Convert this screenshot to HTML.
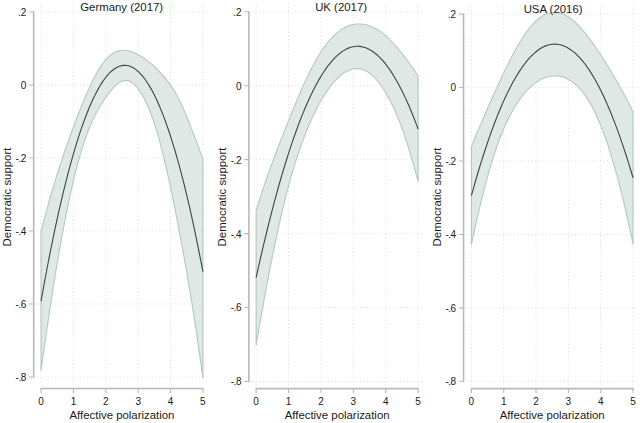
<!DOCTYPE html>
<html lang="en">
<head>
<meta charset="utf-8">
<title>Affective polarization and democratic support</title>
<style>
html,body{margin:0;padding:0;background:#fff;}
body{width:640px;height:423px;overflow:hidden;font-family:"Liberation Sans",sans-serif;}
svg{display:block;}
svg text{font-family:"Liberation Sans",sans-serif;fill:#1a1a1a;}
</style>
</head>
<body>
<svg width="640" height="423" viewBox="0 0 640 423">
<rect width="640" height="423" fill="#fff"/>
<path d="M36.9 12H209M36.9 85H209M36.9 158H209M36.9 231H209M36.9 304H209M36.9 377H209M41.05 3.5V385.5M73.42 3.5V385.5M105.79 3.5V385.5M138.16 3.5V385.5M170.53 3.5V385.5M202.9 3.5V385.5" fill="none" stroke="#d9d9d9" stroke-width="1" stroke-dasharray="1 2.6"/>
<path d="M41.05 231.73L42.67 225.31L44.29 219.05L45.91 212.96L47.52 207.02L49.14 201.23L50.76 195.57L52.38 190.03L54 184.62L55.62 179.32L57.23 174.13L58.85 169.03L60.47 164.03L62.09 159.11L63.71 154.28L65.33 149.53L66.95 144.86L68.56 140.27L70.18 135.74L71.8 131.28L73.42 126.89L75.04 122.56L76.66 118.3L78.28 114.1L79.89 109.98L81.51 105.95L83.13 101.99L84.75 98.13L86.37 94.37L87.99 90.71L89.6 87.15L91.22 83.72L92.84 80.42L94.46 77.25L96.08 74.23L97.7 71.36L99.32 68.66L100.93 66.13L102.55 63.78L104.17 61.62L105.79 59.66L107.41 57.91L109.03 56.36L110.65 55L112.26 53.83L113.88 52.84L115.5 52.02L117.12 51.37L118.74 50.87L120.36 50.52L121.97 50.32L123.59 50.25L125.21 50.31L126.83 50.49L128.45 50.79L130.07 51.19L131.69 51.7L133.3 52.3L134.92 52.99L136.54 53.76L138.16 54.61L139.78 55.52L141.4 56.5L143.02 57.55L144.63 58.67L146.25 59.84L147.87 61.08L149.49 62.38L151.11 63.73L152.73 65.15L154.34 66.62L155.96 68.14L157.58 69.72L159.2 71.35L160.82 73.05L162.44 74.81L164.06 76.67L165.67 78.61L167.29 80.66L168.91 82.83L170.53 85.12L172.15 87.54L173.77 90.11L175.39 92.83L177 95.71L178.62 98.74L180.24 101.95L181.86 105.33L183.48 108.9L185.1 112.64L186.71 116.54L188.33 120.57L189.95 124.68L191.57 128.86L193.19 133.05L194.81 137.25L196.43 141.47L198.04 145.74L199.66 150.1L201.28 154.57L202.9 159.19L202.9 377.82L201.28 366.15L199.66 354.67L198.04 343.41L196.43 332.4L194.81 321.64L193.19 311.17L191.57 301L189.95 291.11L188.33 281.47L186.71 272.05L185.1 262.84L183.48 253.8L181.86 244.92L180.24 236.19L178.62 227.61L177 219.21L175.39 210.97L173.77 202.9L172.15 195.02L170.53 187.32L168.91 179.81L167.29 172.51L165.67 165.43L164.06 158.59L162.44 152L160.82 145.69L159.2 139.67L157.58 133.96L155.96 128.57L154.34 123.49L152.73 118.72L151.11 114.26L149.49 110.1L147.87 106.23L146.25 102.64L144.63 99.34L143.02 96.31L141.4 93.55L139.78 91.05L138.16 88.81L136.54 86.82L134.92 85.08L133.3 83.61L131.69 82.4L130.07 81.47L128.45 80.82L126.83 80.46L125.21 80.39L123.59 80.61L121.97 81.12L120.36 81.89L118.74 82.9L117.12 84.13L115.5 85.57L113.88 87.19L112.26 88.99L110.65 90.92L109.03 92.99L107.41 95.17L105.79 97.44L104.17 99.79L102.55 102.22L100.93 104.77L99.32 107.44L97.7 110.26L96.08 113.25L94.46 116.41L92.84 119.78L91.22 123.36L89.6 127.19L87.99 131.26L86.37 135.61L84.75 140.25L83.13 145.19L81.51 150.41L79.89 155.93L78.28 161.74L76.66 167.84L75.04 174.23L73.42 180.91L71.8 187.88L70.18 195.15L68.56 202.69L66.95 210.52L65.33 218.62L63.71 227L62.09 235.65L60.47 244.57L58.85 253.75L57.23 263.19L55.62 272.89L54 282.84L52.38 293.03L50.76 303.45L49.14 314.1L47.52 324.96L45.91 336.04L44.29 347.31L42.67 358.78L41.05 370.43Z" fill="#dfe8e5" stroke="#b0cac2" stroke-width="1.1" stroke-linejoin="round"/>
<path d="M41.05 301.08L42.67 292.04L44.29 283.18L45.91 274.5L47.52 265.99L49.14 257.66L50.76 249.51L52.38 241.53L54 233.73L55.62 226.11L57.23 218.66L58.85 211.39L60.47 204.3L62.09 197.38L63.71 190.64L65.33 184.07L66.95 177.69L68.56 171.47L70.18 165.44L71.8 159.58L73.42 153.9L75.04 148.4L76.66 143.07L78.28 137.92L79.89 132.94L81.51 128.14L83.13 123.52L84.75 119.08L86.37 114.81L87.99 110.72L89.6 106.8L91.22 103.06L92.84 99.5L94.46 96.12L96.08 92.91L97.7 89.88L99.32 87.02L100.93 84.34L102.55 81.84L104.17 79.51L105.79 77.36L107.41 75.39L109.03 73.6L110.65 71.98L112.26 70.53L113.88 69.27L115.5 68.18L117.12 67.27L118.74 66.53L120.36 65.97L121.97 65.59L123.59 65.38L125.21 65.35L126.83 65.5L128.45 65.82L130.07 66.32L131.69 67L133.3 67.85L134.92 68.88L136.54 70.09L138.16 71.47L139.78 73.03L141.4 74.77L143.02 76.68L144.63 78.77L146.25 81.03L147.87 83.48L149.49 86.1L151.11 88.89L152.73 91.86L154.34 95.01L155.96 98.34L157.58 101.84L159.2 105.52L160.82 109.38L162.44 113.41L164.06 117.62L165.67 122L167.29 126.56L168.91 131.3L170.53 136.22L172.15 141.31L173.77 146.58L175.39 152.02L177 157.64L178.62 163.44L180.24 169.42L181.86 175.57L183.48 181.9L185.1 188.4L186.71 195.08L188.33 201.94L189.95 208.97L191.57 216.18L193.19 223.57L194.81 231.14L196.43 238.88L198.04 246.79L199.66 254.89L201.28 263.16L202.9 271.61" fill="none" stroke="#3c4446" stroke-width="1.1"/>
<path d="M33.7 11.3V377.7M40.35 388.5H203.6" fill="none" stroke="#b9b9b9" stroke-width="1.6"/>
<path d="M29.1 12H33.7M29.1 85H33.7M29.1 158H33.7M29.1 231H33.7M29.1 304H33.7M29.1 377H33.7M41.05 388.5v4.4M73.42 388.5v4.4M105.79 388.5v4.4M138.16 388.5v4.4M170.53 388.5v4.4M202.9 388.5v4.4" fill="none" stroke="#b9b9b9" stroke-width="1.1"/>
<text x="121.7" y="10.9" text-anchor="middle" font-size="11.4">Germany (2017)</text>
<text x="26.3" y="15.9" text-anchor="end" font-size="10.0">.2</text>
<text x="26.3" y="88.9" text-anchor="end" font-size="10.0">0</text>
<text x="26.3" y="161.9" text-anchor="end" font-size="10.0">-<tspan dx="-0.5">.</tspan><tspan dx="-0.45">2</tspan></text>
<text x="26.3" y="234.9" text-anchor="end" font-size="10.0">-<tspan dx="-0.5">.</tspan><tspan dx="-0.45">4</tspan></text>
<text x="26.3" y="307.9" text-anchor="end" font-size="10.0">-<tspan dx="-0.5">.</tspan><tspan dx="-0.45">6</tspan></text>
<text x="26.3" y="380.9" text-anchor="end" font-size="10.0">-<tspan dx="-0.5">.</tspan><tspan dx="-0.45">8</tspan></text>
<text x="41.05" y="404.5" text-anchor="middle" font-size="10.0">0</text>
<text x="73.42" y="404.5" text-anchor="middle" font-size="10.0">1</text>
<text x="105.79" y="404.5" text-anchor="middle" font-size="10.0">2</text>
<text x="138.16" y="404.5" text-anchor="middle" font-size="10.0">3</text>
<text x="170.53" y="404.5" text-anchor="middle" font-size="10.0">4</text>
<text x="202.9" y="404.5" text-anchor="middle" font-size="10.0">5</text>
<text x="121.97" y="419.25" text-anchor="middle" font-size="11.4">Affective polarization</text>
<text transform="translate(10.8 197) rotate(-90)" text-anchor="middle" font-size="11.4">Democratic support</text>
<path d="M252.1 11.75H424M252.1 85.7H424M252.1 159.65H424M252.1 233.6H424M252.1 307.55H424M252.1 381.5H424M256.15 3.25V385.6M288.54 3.25V385.6M320.93 3.25V385.6M353.32 3.25V385.6M385.71 3.25V385.6M418.1 3.25V385.6" fill="none" stroke="#d9d9d9" stroke-width="1" stroke-dasharray="1 2.6"/>
<path d="M256.15 210.31L257.77 205.11L259.39 200.03L261.01 195.05L262.63 190.17L264.25 185.38L265.87 180.68L267.49 176.06L269.11 171.52L270.73 167.04L272.34 162.63L273.96 158.27L275.58 153.96L277.2 149.7L278.82 145.48L280.44 141.3L282.06 137.16L283.68 133.05L285.3 128.96L286.92 124.89L288.54 120.84L290.16 116.81L291.78 112.8L293.4 108.81L295.02 104.86L296.64 100.96L298.26 97.11L299.88 93.32L301.5 89.59L303.12 85.94L304.73 82.37L306.35 78.88L307.97 75.49L309.59 72.2L311.21 69L312.83 65.9L314.45 62.91L316.07 60.02L317.69 57.23L319.31 54.56L320.93 52L322.55 49.56L324.17 47.23L325.79 45.02L327.41 42.92L329.03 40.93L330.65 39.06L332.27 37.3L333.89 35.66L335.51 34.13L337.12 32.71L338.74 31.41L340.36 30.21L341.98 29.12L343.6 28.15L345.22 27.27L346.84 26.5L348.46 25.84L350.08 25.28L351.7 24.81L353.32 24.45L354.94 24.18L356.56 24.01L358.18 23.93L359.8 23.94L361.42 24.05L363.04 24.24L364.66 24.52L366.28 24.89L367.9 25.34L369.51 25.87L371.13 26.48L372.75 27.17L374.37 27.95L375.99 28.8L377.61 29.74L379.23 30.77L380.85 31.88L382.47 33.07L384.09 34.35L385.71 35.72L387.33 37.18L388.95 38.72L390.57 40.34L392.19 42.03L393.81 43.78L395.43 45.59L397.05 47.46L398.67 49.37L400.29 51.33L401.9 53.33L403.52 55.36L405.14 57.42L406.76 59.54L408.38 61.72L410 63.96L411.62 66.27L413.24 68.67L414.86 71.16L416.48 73.75L418.1 76.45L418.1 181.46L416.48 175.44L414.86 169.55L413.24 163.79L411.62 158.18L410 152.72L408.38 147.42L406.76 142.29L405.14 137.34L403.52 132.58L401.9 128.02L400.29 123.65L398.67 119.49L397.05 115.52L395.43 111.74L393.81 108.14L392.19 104.71L390.57 101.46L388.95 98.37L387.33 95.44L385.71 92.67L384.09 90.04L382.47 87.56L380.85 85.23L379.23 83.06L377.61 81.03L375.99 79.16L374.37 77.43L372.75 75.87L371.13 74.45L369.51 73.19L367.9 72.09L366.28 71.14L364.66 70.35L363.04 69.7L361.42 69.21L359.8 68.86L358.18 68.66L356.56 68.6L354.94 68.68L353.32 68.91L351.7 69.27L350.08 69.77L348.46 70.41L346.84 71.18L345.22 72.09L343.6 73.13L341.98 74.29L340.36 75.59L338.74 77.01L337.12 78.56L335.51 80.23L333.89 82.03L332.27 83.95L330.65 85.99L329.03 88.16L327.41 90.44L325.79 92.85L324.17 95.38L322.55 98.04L320.93 100.81L319.31 103.7L317.69 106.72L316.07 109.86L314.45 113.14L312.83 116.54L311.21 120.07L309.59 123.75L307.97 127.56L306.35 131.51L304.73 135.61L303.12 139.85L301.5 144.25L299.88 148.81L298.26 153.55L296.64 158.45L295.02 163.55L293.4 168.83L291.78 174.32L290.16 180.01L288.54 185.92L286.92 192.05L285.3 198.4L283.68 204.96L282.06 211.73L280.44 218.71L278.82 225.89L277.2 233.27L275.58 240.84L273.96 248.6L272.34 256.54L270.73 264.67L269.11 272.97L267.49 281.44L265.87 290.07L264.25 298.85L262.63 307.79L261.01 316.86L259.39 326.08L257.77 335.42L256.15 344.89Z" fill="#dfe8e5" stroke="#b0cac2" stroke-width="1.1" stroke-linejoin="round"/>
<path d="M256.15 277.6L257.77 270.27L259.39 263.05L261.01 255.96L262.63 248.98L264.25 242.12L265.87 235.37L267.49 228.75L269.11 222.24L270.73 215.85L272.34 209.58L273.96 203.43L275.58 197.4L277.2 191.48L278.82 185.69L280.44 180.01L282.06 174.44L283.68 169L285.3 163.68L286.92 158.47L288.54 153.38L290.16 148.41L291.78 143.56L293.4 138.82L295.02 134.21L296.64 129.71L298.26 125.33L299.88 121.06L301.5 116.92L303.12 112.9L304.73 108.99L306.35 105.2L307.97 101.53L309.59 97.97L311.21 94.54L312.83 91.22L314.45 88.02L316.07 84.94L317.69 81.98L319.31 79.13L320.93 76.41L322.55 73.8L324.17 71.31L325.79 68.93L327.41 66.68L329.03 64.54L330.65 62.53L332.27 60.63L333.89 58.85L335.51 57.18L337.12 55.64L338.74 54.21L340.36 52.9L341.98 51.71L343.6 50.64L345.22 49.68L346.84 48.84L348.46 48.13L350.08 47.52L351.7 47.04L353.32 46.68L354.94 46.43L356.56 46.3L358.18 46.29L359.8 46.4L361.42 46.63L363.04 46.97L364.66 47.43L366.28 48.02L367.9 48.71L369.51 49.53L371.13 50.47L372.75 51.52L374.37 52.69L375.99 53.98L377.61 55.39L379.23 56.91L380.85 58.56L382.47 60.32L384.09 62.2L385.71 64.2L387.33 66.31L388.95 68.55L390.57 70.9L392.19 73.37L393.81 75.96L395.43 78.66L397.05 81.49L398.67 84.43L400.29 87.49L401.9 90.67L403.52 93.97L405.14 97.38L406.76 100.92L408.38 104.57L410 108.34L411.62 112.23L413.24 116.23L414.86 120.36L416.48 124.6L418.1 128.96" fill="none" stroke="#3c4446" stroke-width="1.1"/>
<path d="M248.9 11.05V382.2M255.45 388.6H418.8" fill="none" stroke="#b9b9b9" stroke-width="1.6"/>
<path d="M244.3 11.75H248.9M244.3 85.7H248.9M244.3 159.65H248.9M244.3 233.6H248.9M244.3 307.55H248.9M244.3 381.5H248.9M256.15 388.6v4.4M288.54 388.6v4.4M320.93 388.6v4.4M353.32 388.6v4.4M385.71 388.6v4.4M418.1 388.6v4.4" fill="none" stroke="#b9b9b9" stroke-width="1.1"/>
<text x="341.1" y="10.65" text-anchor="middle" font-size="11.4">UK (2017)</text>
<text x="241.5" y="15.65" text-anchor="end" font-size="10.0">.2</text>
<text x="241.5" y="89.6" text-anchor="end" font-size="10.0">0</text>
<text x="241.5" y="163.55" text-anchor="end" font-size="10.0">-<tspan dx="-0.5">.</tspan><tspan dx="-0.45">2</tspan></text>
<text x="241.5" y="237.5" text-anchor="end" font-size="10.0">-<tspan dx="-0.5">.</tspan><tspan dx="-0.45">4</tspan></text>
<text x="241.5" y="311.45" text-anchor="end" font-size="10.0">-<tspan dx="-0.5">.</tspan><tspan dx="-0.45">6</tspan></text>
<text x="241.5" y="385.4" text-anchor="end" font-size="10.0">-<tspan dx="-0.5">.</tspan><tspan dx="-0.45">8</tspan></text>
<text x="256.15" y="404.6" text-anchor="middle" font-size="10.0">0</text>
<text x="288.54" y="404.6" text-anchor="middle" font-size="10.0">1</text>
<text x="320.93" y="404.6" text-anchor="middle" font-size="10.0">2</text>
<text x="353.32" y="404.6" text-anchor="middle" font-size="10.0">3</text>
<text x="385.71" y="404.6" text-anchor="middle" font-size="10.0">4</text>
<text x="418.1" y="404.6" text-anchor="middle" font-size="10.0">5</text>
<text x="337.12" y="419.35" text-anchor="middle" font-size="11.4">Affective polarization</text>
<text transform="translate(226.1 197) rotate(-90)" text-anchor="middle" font-size="11.4">Democratic support</text>
<path d="M466.75 14.11H639.5M466.75 87.55H639.5M466.75 160.99H639.5M466.75 234.43H639.5M466.75 307.87H639.5M466.75 381.31H639.5M471.4 5.61V385.6M503.73 5.61V385.6M536.06 5.61V385.6M568.39 5.61V385.6M600.72 5.61V385.6M633.05 5.61V385.6" fill="none" stroke="#d9d9d9" stroke-width="1" stroke-dasharray="1 2.6"/>
<path d="M471.4 146.56L473.02 142.6L474.63 138.68L476.25 134.8L477.87 130.96L479.48 127.14L481.1 123.36L482.72 119.6L484.33 115.87L485.95 112.16L487.56 108.48L489.18 104.81L490.8 101.17L492.41 97.55L494.03 93.95L495.65 90.37L497.26 86.82L498.88 83.29L500.5 79.79L502.11 76.33L503.73 72.91L505.35 69.53L506.96 66.19L508.58 62.92L510.2 59.7L511.81 56.56L513.43 53.48L515.05 50.49L516.66 47.58L518.28 44.76L519.89 42.04L521.51 39.42L523.13 36.9L524.74 34.49L526.36 32.19L527.98 30.01L529.59 27.95L531.21 26.01L532.83 24.19L534.44 22.5L536.06 20.93L537.68 19.49L539.29 18.18L540.91 17.01L542.53 15.96L544.14 15.04L545.76 14.26L547.38 13.61L548.99 13.09L550.61 12.71L552.22 12.45L553.84 12.33L555.46 12.34L557.07 12.47L558.69 12.74L560.31 13.13L561.92 13.64L563.54 14.28L565.16 15.04L566.77 15.91L568.39 16.91L570.01 18.01L571.62 19.22L573.24 20.55L574.86 21.97L576.47 23.49L578.09 25.1L579.71 26.81L581.32 28.6L582.94 30.47L584.55 32.42L586.17 34.44L587.79 36.52L589.4 38.67L591.02 40.87L592.64 43.12L594.25 45.43L595.87 47.78L597.49 50.17L599.1 52.6L600.72 55.06L602.34 57.56L603.95 60.1L605.57 62.66L607.19 65.26L608.8 67.89L610.42 70.55L612.04 73.24L613.65 75.97L615.27 78.73L616.88 81.53L618.5 84.36L620.12 87.23L621.73 90.14L623.35 93.09L624.97 96.08L626.58 99.11L628.2 102.19L629.82 105.31L631.43 108.48L633.05 111.69L633.05 244.22L631.43 236.5L629.82 228.96L628.2 221.6L626.58 214.42L624.97 207.43L623.35 200.63L621.73 194.01L620.12 187.58L618.5 181.34L616.88 175.29L615.27 169.43L613.65 163.76L612.04 158.29L610.42 153.01L608.8 147.93L607.19 143.05L605.57 138.36L603.95 133.86L602.34 129.57L600.72 125.46L599.1 121.56L597.49 117.84L595.87 114.31L594.25 110.97L592.64 107.81L591.02 104.83L589.4 102.03L587.79 99.39L586.17 96.93L584.55 94.62L582.94 92.48L581.32 90.48L579.71 88.64L578.09 86.93L576.47 85.37L574.86 83.93L573.24 82.63L571.62 81.45L570.01 80.4L568.39 79.46L566.77 78.64L565.16 77.93L563.54 77.33L561.92 76.84L560.31 76.45L558.69 76.17L557.07 75.99L555.46 75.91L553.84 75.93L552.22 76.04L550.61 76.26L548.99 76.56L547.38 76.97L545.76 77.47L544.14 78.07L542.53 78.76L540.91 79.55L539.29 80.44L537.68 81.42L536.06 82.5L534.44 83.68L532.83 84.97L531.21 86.35L529.59 87.84L527.98 89.44L526.36 91.14L524.74 92.96L523.13 94.9L521.51 96.95L519.89 99.13L518.28 101.44L516.66 103.88L515.05 106.45L513.43 109.17L511.81 112.04L510.2 115.06L508.58 118.24L506.96 121.59L505.35 125.11L503.73 128.81L502.11 132.7L500.5 136.77L498.88 141.04L497.26 145.51L495.65 150.18L494.03 155.05L492.41 160.12L490.8 165.41L489.18 170.9L487.56 176.6L485.95 182.5L484.33 188.61L482.72 194.93L481.1 201.44L479.48 208.16L477.87 215.08L476.25 222.19L474.63 229.49L473.02 236.99L471.4 244.68Z" fill="#dfe8e5" stroke="#b0cac2" stroke-width="1.1" stroke-linejoin="round"/>
<path d="M471.4 195.62L473.02 189.8L474.63 184.09L476.25 178.5L477.87 173.02L479.48 167.65L481.1 162.4L482.72 157.26L484.33 152.24L485.95 147.33L487.56 142.54L489.18 137.86L490.8 133.29L492.41 128.84L494.03 124.5L495.65 120.27L497.26 116.16L498.88 112.17L500.5 108.28L502.11 104.51L503.73 100.86L505.35 97.32L506.96 93.89L508.58 90.58L510.2 87.38L511.81 84.3L513.43 81.33L515.05 78.47L516.66 75.73L518.28 73.1L519.89 70.59L521.51 68.19L523.13 65.9L524.74 63.73L526.36 61.67L527.98 59.73L529.59 57.9L531.21 56.18L532.83 54.58L534.44 53.09L536.06 51.72L537.68 50.46L539.29 49.31L540.91 48.28L542.53 47.36L544.14 46.56L545.76 45.87L547.38 45.29L548.99 44.83L550.61 44.48L552.22 44.25L553.84 44.13L555.46 44.12L557.07 44.23L558.69 44.45L560.31 44.79L561.92 45.24L563.54 45.81L565.16 46.48L566.77 47.28L568.39 48.18L570.01 49.2L571.62 50.34L573.24 51.59L574.86 52.95L576.47 54.43L578.09 56.02L579.71 57.72L581.32 59.54L582.94 61.47L584.55 63.52L586.17 65.68L587.79 67.96L589.4 70.35L591.02 72.85L592.64 75.47L594.25 78.2L595.87 81.04L597.49 84L599.1 87.08L600.72 90.26L602.34 93.56L603.95 96.98L605.57 100.51L607.19 104.15L608.8 107.91L610.42 111.78L612.04 115.77L613.65 119.87L615.27 124.08L616.88 128.41L618.5 132.85L620.12 137.4L621.73 142.07L623.35 146.86L624.97 151.76L626.58 156.77L628.2 161.89L629.82 167.13L631.43 172.49L633.05 177.95" fill="none" stroke="#3c4446" stroke-width="1.1"/>
<path d="M463.55 13.41V382.01M470.7 388.6H633.75" fill="none" stroke="#b9b9b9" stroke-width="1.6"/>
<path d="M458.95 14.11H463.55M458.95 87.55H463.55M458.95 160.99H463.55M458.95 234.43H463.55M458.95 307.87H463.55M458.95 381.31H463.55M471.4 388.6v4.4M503.73 388.6v4.4M536.06 388.6v4.4M568.39 388.6v4.4M600.72 388.6v4.4M633.05 388.6v4.4" fill="none" stroke="#b9b9b9" stroke-width="1.1"/>
<text x="553.1" y="13.01" text-anchor="middle" font-size="11.4">USA (2016)</text>
<text x="456.15" y="18.01" text-anchor="end" font-size="10.0">.2</text>
<text x="456.15" y="91.45" text-anchor="end" font-size="10.0">0</text>
<text x="456.15" y="164.89" text-anchor="end" font-size="10.0">-<tspan dx="-0.5">.</tspan><tspan dx="-0.45">2</tspan></text>
<text x="456.15" y="238.33" text-anchor="end" font-size="10.0">-<tspan dx="-0.5">.</tspan><tspan dx="-0.45">4</tspan></text>
<text x="456.15" y="311.77" text-anchor="end" font-size="10.0">-<tspan dx="-0.5">.</tspan><tspan dx="-0.45">6</tspan></text>
<text x="456.15" y="385.21" text-anchor="end" font-size="10.0">-<tspan dx="-0.5">.</tspan><tspan dx="-0.45">8</tspan></text>
<text x="471.4" y="404.6" text-anchor="middle" font-size="10.0">0</text>
<text x="503.73" y="404.6" text-anchor="middle" font-size="10.0">1</text>
<text x="536.06" y="404.6" text-anchor="middle" font-size="10.0">2</text>
<text x="568.39" y="404.6" text-anchor="middle" font-size="10.0">3</text>
<text x="600.72" y="404.6" text-anchor="middle" font-size="10.0">4</text>
<text x="633.05" y="404.6" text-anchor="middle" font-size="10.0">5</text>
<text x="552.22" y="419.35" text-anchor="middle" font-size="11.4">Affective polarization</text>
<text transform="translate(441 197) rotate(-90)" text-anchor="middle" font-size="11.4">Democratic support</text>
</svg>
</body>
</html>
